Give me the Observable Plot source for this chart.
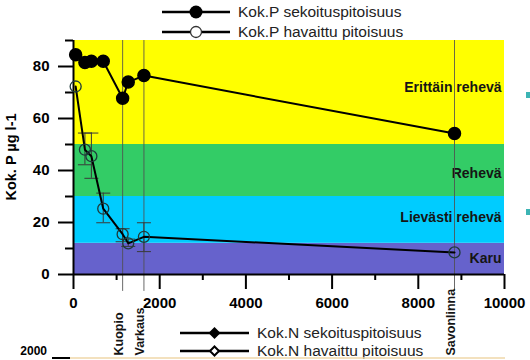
<!DOCTYPE html>
<html>
<head>
<meta charset="utf-8">
<script src="https://cdn.jsdelivr.net/npm/d3@7"></script>
<script src="https://cdn.jsdelivr.net/npm/@observablehq/plot@0.6"></script>
<style>
  html, body { margin: 0; padding: 0; background: white; }
  #wrap { position: relative; width: 530px; height: 360px; overflow: hidden; }
  #overlay { position: absolute; left: 0; top: 0; pointer-events: none; }
  .sq { position: absolute; width: 5px; height: 6px; background: #3cb4b4; }
</style>
</head>
<body>
<div id="wrap"></div>
<script>
// ---- data ----
const distance = [50, 265, 415, 690, 1140, 1270, 1634, 8840];
const mixedP = [84.5, 81.5, 82, 82, 67.8, 74, 76.5, 54.2];
const observedP = [72.3, 48, 45.5, 25.3, 15.5, 12, 14.5, 8.5];
const observedLow = [null, 42.2, 37, 19.9, 12.6, 10.8, 8.8, null];
const observedHigh = [null, 54.4, 54.4, 31.3, 17.6, 13.6, 19.9, null];

const townNames = ["Kuopio", "Varkaus", "Savonlinna"];
const townX = [1140, 1634, 8840];

const bandNames = ["Karu", "Lievästi rehevä", "Rehevä", "Erittäin rehevä"];
const bandLow = [0, 12, 30, 50];
const bandHigh = [12, 30, 50, 90];
const bandColors = ["#6662cc", "#00ccff", "#33cc66", "#ffff00"];
const bandLabelY = [6, 22, 39, 72];

const xMajor = [0, 2000, 4000, 6000, 8000, 10000];
const xMinor = [1000, 3000, 5000, 7000, 9000];
const yMajor = [0, 20, 40, 60, 80];
const yMinor = [10, 30, 50, 70, 90];

const yLabel = "Kok. P µg l-1";
const legendP = ["Kok.P sekoituspitoisuus", "Kok.P havaittu pitoisuus"];
const legendN = ["Kok.N sekoituspitoisuus", "Kok.N havaittu pitoisuus"];
const nextChartTick = "2000";

// ---- tables ----
const xDomain = [0, 10000];
const yDomain = [0, 90];
const bands = bandNames.map((name, i) => ({name, lo: bandLow[i], hi: bandHigh[i], color: bandColors[i], ly: bandLabelY[i]}));
const mixed = distance.map((x, i) => ({x, y: mixedP[i]}));
const observed = distance.map((x, i) => ({x, y: observedP[i], lo: observedLow[i], hi: observedHigh[i]}));
const errs = observed.filter(d => d.lo != null);
const towns = townNames.map((name, i) => ({name, x: townX[i]}));

const capSymbol = {
  draw(ctx, size) {
    const r = Math.sqrt(size / Math.PI);
    ctx.moveTo(-r, 0);
    ctx.lineTo(r, 0);
  }
};

const font = "'Liberation Sans', Arial, sans-serif";

const chart = Plot.plot({
  width: 530,
  height: 360,
  marginLeft: 73,
  marginRight: 26,
  marginTop: 40,
  marginBottom: 86,
  style: {fontFamily: font, background: "white", color: "black", overflow: "visible"},
  x: {domain: xDomain},
  y: {domain: yDomain},
  color: {type: "identity"},
  marks: [
    Plot.rect(bands, {x1: () => xDomain[0], x2: () => xDomain[1], y1: "lo", y2: "hi", fill: "color"}),
    Plot.text(bands, {x: () => xDomain[1], y: "ly", text: "name", textAnchor: "end", dx: -3,
      fontWeight: "bold", fontSize: 14, fill: "#151515"}),
    Plot.ruleX(towns, {x: "x", y1: -6.5, y2: 90, stroke: "#505050", strokeWidth: 1, strokeOpacity: 0.85}),
    Plot.text(towns, {x: "x", text: "name", frameAnchor: "bottom", dy: 81, rotate: -90,
      textAnchor: "start", fontWeight: "bold", fontSize: 12.5, fill: "#151515"}),
    // axes
    Plot.axisX({ticks: xMajor, tickSize: 15, tickPadding: 8, tickFormat: d => String(d),
      fontSize: 15, fontWeight: "bold", strokeWidth: 2, label: null, color: "black"}),
    Plot.axisX({ticks: xMinor, tickSize: 6, tickFormat: () => "", strokeWidth: 2, label: null}),
    Plot.axisY({ticks: yMajor, tickSize: 15, tickPadding: 9, tickFormat: d => String(d),
      fontSize: 15, fontWeight: "bold", strokeWidth: 2, label: null, color: "black"}),
    Plot.axisY({ticks: yMinor, tickSize: 8, tickFormat: () => "", strokeWidth: 2, label: null}),
    Plot.ruleY([0], {stroke: "black", strokeWidth: 2}),
    Plot.ruleX([0], {stroke: "black", strokeWidth: 2}),
    // error bars
    Plot.ruleX(errs, {x: "x", y1: "lo", y2: "hi", stroke: "#3a3a3a", strokeWidth: 1}),
    Plot.dot(errs, {x: "x", y: "lo", symbol: capSymbol, r: 7, stroke: "#3a3a3a", strokeWidth: 1, fill: "none"}),
    Plot.dot(errs, {x: "x", y: "hi", symbol: capSymbol, r: 7, stroke: "#3a3a3a", strokeWidth: 1, fill: "none"}),
    // series
    Plot.line(mixed, {x: "x", y: "y", stroke: "black", strokeWidth: 2}),
    Plot.dot(mixed, {x: "x", y: "y", r: 6, fill: "black", stroke: "black"}),
    Plot.line(observed, {x: "x", y: "y", stroke: "black", strokeWidth: 2}),
    Plot.dot(observed, {x: "x", y: "y", r: 5.5, fill: "none", stroke: "#1e3a3a", strokeWidth: 1.3})
  ]
});

const wrap = document.getElementById("wrap");
wrap.appendChild(chart);

// ---- legends, axis title & surrounding fragments (overlay) ----
const ns = "http://www.w3.org/2000/svg";
const ov = d3.select(wrap).append("svg").attr("id", "overlay")
  .attr("width", 530).attr("height", 360).attr("xmlns", ns)
  .style("font-family", font);

// y axis title, centred on the plot frame
ov.append("text").attr("transform", `translate(11,${(40 + 274) / 2}) rotate(-90)`)
  .attr("text-anchor", "middle").attr("dy", "0.35em")
  .attr("font-size", 14.5).attr("font-weight", "bold").text(yLabel);

function legendRow(y, x0, x1, text, marker) {
  ov.append("line").attr("x1", x0).attr("x2", x1).attr("y1", y).attr("y2", y)
    .attr("stroke", "black").attr("stroke-width", 2.5);
  const cx = (x0 + x1) / 2;
  marker(cx, y);
  ov.append("text").attr("x", x1 + 8).attr("y", y).attr("dy", "0.35em")
    .attr("font-size", 15.5).attr("fill", "#222").text(text);
}
legendRow(12, 162, 230, legendP[0], (cx, y) =>
  ov.append("circle").attr("cx", cx).attr("cy", y).attr("r", 6.5).attr("fill", "black"));
legendRow(32, 162, 230, legendP[1], (cx, y) =>
  ov.append("circle").attr("cx", cx).attr("cy", y).attr("r", 5.5).attr("fill", "white")
    .attr("stroke", "#333").attr("stroke-width", 1.3));
legendRow(333, 180, 249, legendN[0], (cx, y) =>
  ov.append("path").attr("d", `M${cx},${y-6}L${cx+6},${y}L${cx},${y+6}L${cx-6},${y}Z`).attr("fill", "black"));
legendRow(351, 180, 249, legendN[1], (cx, y) =>
  ov.append("path").attr("d", `M${cx},${y-4.5}L${cx+4.5},${y}L${cx},${y+4.5}L${cx-4.5},${y}Z`)
    .attr("fill", "white").attr("stroke", "black").attr("stroke-width", 2));

// top edge of the next chart below
ov.append("line").attr("x1", 70).attr("x2", 505).attr("y1", 358).attr("y2", 358)
  .attr("stroke", "#efd7a8").attr("stroke-width", 1.5);
ov.append("line").attr("x1", 52).attr("x2", 70).attr("y1", 358).attr("y2", 358)
  .attr("stroke", "black").attr("stroke-width", 2);
ov.append("text").attr("x", 47).attr("y", 355).attr("text-anchor", "end")
  .attr("font-size", 12).attr("font-weight", "bold").text(nextChartTick);

// small fragments at the right edge
[92, 209].forEach(top => {
  const d = document.createElement("div");
  d.className = "sq";
  d.style.left = "526px";
  d.style.top = top + "px";
  wrap.appendChild(d);
});
</script>
</body>
</html>
